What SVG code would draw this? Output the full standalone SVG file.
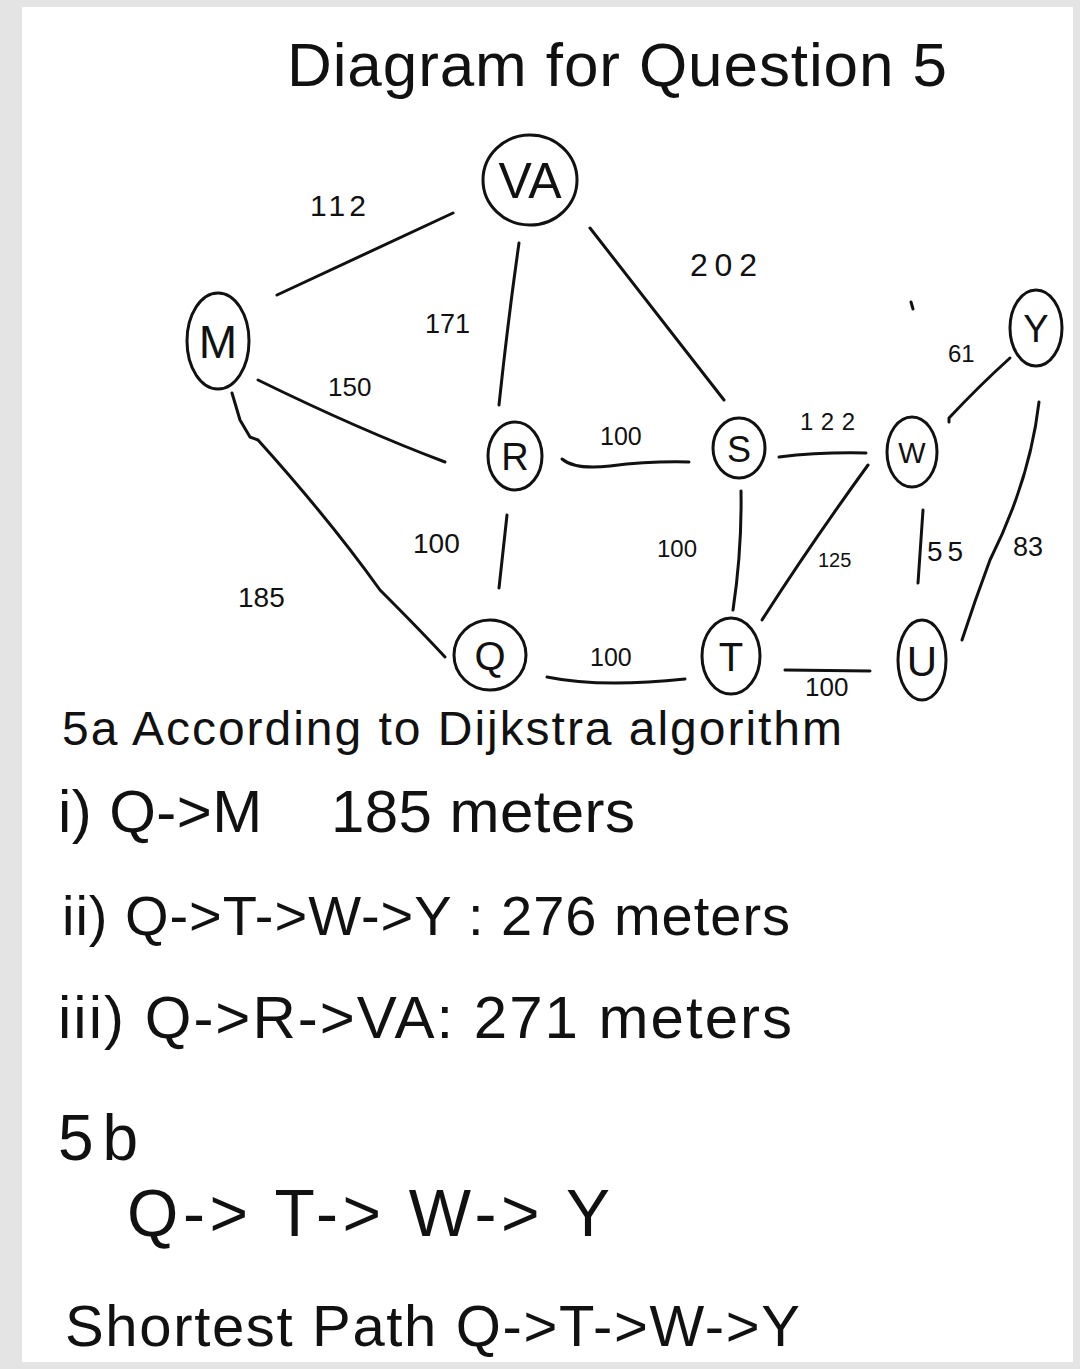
<svg xmlns="http://www.w3.org/2000/svg" width="1080" height="1369" viewBox="0 0 1080 1369">
<style>
.n{fill:none;stroke:#111;stroke-width:3}
.e{fill:none;stroke:#111;stroke-width:3;stroke-linecap:round;stroke-linejoin:round}
text{font-family:"Liberation Sans",Arial,sans-serif;fill:#111}
.lb{text-anchor:middle}
</style>
<rect x="0" y="0" width="1080" height="1369" fill="#e4e4e4"/>
<rect x="22" y="7" width="1051" height="1355" fill="#ffffff"/>
<text x="287" y="86" font-size="62" textLength="660" lengthAdjust="spacing">Diagram for Question 5</text>
<g id="connectors">
<path class="e" d="M277,295 L453,213"/>
<path class="e" d="M519,243 Q508,320 499,405"/>
<path class="e" d="M590,228 L724,400"/>
<path class="e" d="M258,380 Q360,430 445,462"/>
<path class="e" d="M232,393 L240,420 L250,437 L258,440 Q330,520 380,590 Q420,630 445,657"/>
<path class="e" d="M507,515 L499,588"/>
<path class="e" d="M562,459 Q575,470 610,466 Q650,461 689,462"/>
<path class="e" d="M741,491 Q742,550 733,610"/>
<path class="e" d="M547,677 Q600,688 685,679"/>
<path class="e" d="M779,457 Q820,452 866,453"/>
<path class="e" d="M762,620 Q810,545 868,465"/>
<path class="e" d="M785,670 L870,671"/>
<path class="e" d="M949,422 L949,418 Q980,385 1010,358"/>
<path class="e" d="M923,510 L918,583"/>
<path class="e" d="M1039,402 Q1030,480 990,560 Q975,600 962,640"/>
<path class="e" d="M911,302 L913,309"/>
</g>
<g id="edge-labels">
<text x="310" y="216" font-size="30" textLength="56" lengthAdjust="spacing">112</text>
<text x="425" y="333" font-size="27">171</text>
<text x="328" y="396" font-size="26">150</text>
<text x="690" y="276" font-size="32" textLength="67" lengthAdjust="spacing">202</text>
<text x="600" y="445" font-size="25">100</text>
<text x="413" y="553" font-size="28">100</text>
<text x="657" y="557" font-size="24">100</text>
<text x="590" y="666" font-size="25">100</text>
<text x="805" y="696" font-size="26">100</text>
<text x="800" y="430" font-size="24" textLength="55" lengthAdjust="spacing">122</text>
<text x="818" y="567" font-size="20">125</text>
<text x="927" y="561" font-size="28" textLength="36" lengthAdjust="spacing">55</text>
<text x="1013" y="556" font-size="27">83</text>
<text x="948" y="362" font-size="24">61</text>
<text x="238" y="607" font-size="28">185</text>
</g>
<g id="node-VA"><ellipse class="n" cx="530" cy="180" rx="47" ry="45"/><text class="lb" x="530" y="198" font-size="50">VA</text></g>
<g id="node-M"><ellipse class="n" cx="218" cy="341" rx="31" ry="48"/><text class="lb" x="218" y="358" font-size="46">M</text></g>
<g id="node-R"><ellipse class="n" cx="515" cy="456" rx="27" ry="34"/><text class="lb" x="515" y="470" font-size="38">R</text></g>
<g id="node-S"><ellipse class="n" cx="739" cy="448" rx="26" ry="30"/><text class="lb" x="739" y="462" font-size="36">S</text></g>
<g id="node-Q"><ellipse class="n" cx="490" cy="655" rx="36" ry="35"/><text class="lb" x="490" y="670" font-size="40">Q</text></g>
<g id="node-T"><ellipse class="n" cx="731" cy="656" rx="29" ry="38"/><text class="lb" x="731" y="671" font-size="40">T</text></g>
<g id="node-W"><ellipse class="n" cx="912" cy="452" rx="25" ry="35"/><text class="lb" x="912" y="463" font-size="29">W</text></g>
<g id="node-Y"><ellipse class="n" cx="1036" cy="328" rx="26" ry="38"/><text class="lb" x="1036" y="342" font-size="38">Y</text></g>
<g id="node-U"><ellipse class="n" cx="922" cy="660" rx="24" ry="40"/><text class="lb" x="922" y="676" font-size="42">U</text></g>
<g id="answers">
<text x="62" y="745" font-size="48" textLength="780" lengthAdjust="spacing">5a According to Dijkstra algorithm</text>
<text x="58" y="832" font-size="60" textLength="577" lengthAdjust="spacing" xml:space="preserve" style="white-space:pre">i) Q-&gt;M    185 meters</text>
<text x="62" y="935" font-size="56" textLength="728" lengthAdjust="spacing">ii) Q-&gt;T-&gt;W-&gt;Y : 276 meters</text>
<text x="58" y="1038" font-size="60" textLength="734" lengthAdjust="spacing">iii) Q-&gt;R-&gt;VA: 271 meters</text>
<text x="58" y="1160" font-size="64" textLength="80" lengthAdjust="spacing">5b</text>
<text x="127" y="1236" font-size="66" textLength="483" lengthAdjust="spacing">Q-&gt; T-&gt; W-&gt; Y</text>
<text x="65" y="1346" font-size="58" textLength="735" lengthAdjust="spacing">Shortest Path Q-&gt;T-&gt;W-&gt;Y</text>
</g>
</svg>
